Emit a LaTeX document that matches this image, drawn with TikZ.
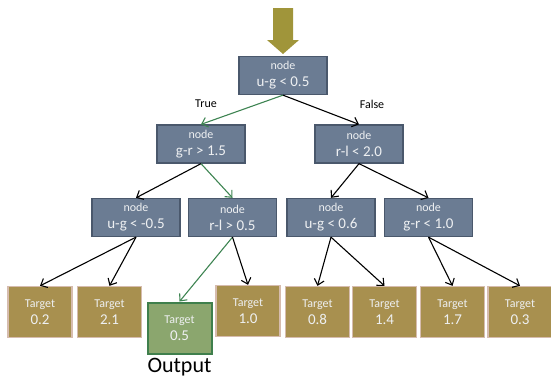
\documentclass[tikz,border=0pt]{standalone}
\usepackage{fontspec}
\setmainfont{Carlito}
\usepackage{xcolor}
\usepackage{tikz}
\usetikzlibrary{positioning, arrows.meta}

\definecolor{splitfill}{HTML}{6B7C93}
\definecolor{splitline}{HTML}{4A586C}
\definecolor{leaffill}{HTML}{A8904F}
\definecolor{leafline}{HTML}{D6BCAE}
\definecolor{outfill}{HTML}{8BA66E}
\definecolor{outline}{HTML}{3F7F4C}
\definecolor{pathgreen}{HTML}{3E8452}
\definecolor{inolive}{HTML}{A0953A}
\definecolor{softwhite}{HTML}{EEF0F2}

\newcommand{\smalltag}{\fontsize{12}{13}\selectfont}

\begin{document}
\begin{tikzpicture}[
    x=1pt, y=-1pt,
    % Define common styles
        splitnode/.style={draw=splitline, fill=splitfill, line width=1.3pt, text=softwhite, align=center, minimum width=88pt, minimum height=38pt, inner sep=2pt, font=\fontsize{15}{17}\selectfont},
        leafnode/.style={draw=leafline, fill=leaffill, line width=1.3pt, text=softwhite, align=center, minimum width=64pt, minimum height=51pt, inner sep=2pt, font=\fontsize{15}{17}\selectfont},
        outnode/.style={leafnode, draw=outline, fill=outfill, line width=2pt},
        arrow/.style={-{Straight Barb[length=5.5pt, width=10pt]}, line width=1.1pt},
        greenarrow/.style={arrow, draw=pathgreen}
    ]
    \useasboundingbox (0,0) rectangle (551,380);

        % Input arrow on top
        \fill[inolive] (273,8) -- (293,8) -- (293,40) -- (299,40) -- (283,54) -- (267,40) -- (273,40) -- cycle;

        % Root split
        \node[splitnode] (root) at (283,75.5) {{\smalltag node}\\ u-g < 0.5};

        % Second level
        \node[splitnode] (gr) at (201,144) {{\smalltag node}\\ g-r > 1.5};
        \node[splitnode] (rl) at (359,144) {{\smalltag node}\\ r-l < 2.0};

        % Third level
        \node[splitnode] (ugA) at (136,217.5) {{\smalltag node}\\ u-g < -0.5};
        \node[splitnode] (rlB) at (232.5,217.5) {{\smalltag node}\\ r-l > 0.5};
        \node[splitnode] (ugC) at (331,217.5) {{\smalltag node}\\ u-g < 0.6};
        \node[splitnode] (grD) at (428.5,217.5) {{\smalltag node}\\ g-r < 1.0};

        % Leaves
        \node[leafnode] (t1) at (40,312) {{\smalltag Target}\\ 0.2};
        \node[leafnode] (t2) at (109.5,312) {{\smalltag Target}\\ 2.1};
        \node[outnode] (t3) at (179.5,328) {{\smalltag Target}\\ 0.5};
        \node[leafnode] (t4) at (248,311) {{\smalltag Target}\\ 1.0};
        \node[leafnode] (t5) at (317.5,312) {{\smalltag Target}\\ 0.8};
        \node[leafnode] (t6) at (384.5,312) {{\smalltag Target}\\ 1.4};
        \node[leafnode] (t7) at (452.5,312) {{\smalltag Target}\\ 1.7};
        \node[leafnode] (t8) at (520,312) {{\smalltag Target}\\ 0.3};

        % Labels
        \node[font=\fontsize{12}{13}\selectfont] (true) at (206,104) {True};
        \node[font=\fontsize{12}{13}\selectfont] (false) at (372,104) {False};
        \node[below=4pt of t3, font=\fontsize{22}{24}\selectfont, inner sep=0pt] (output) {Output};

        % Draw the branches
        \draw[greenarrow] (root.south) -- (gr.north);
        \draw[arrow] (root.south) -- (rl.north);
        \draw[arrow] (gr.south) -- (ugA.north);
        \draw[greenarrow] (gr.south) -- (rlB.north);
        \draw[arrow] (rl.south) -- (ugC.north);
        \draw[arrow] (rl.south) -- (grD.north);

        % Draw leaf arrows
        \draw[arrow] (ugA.south) -- (t1.north);
        \draw[arrow] (ugA.south) -- (t2.north);
        \draw[greenarrow] (rlB.south) -- (t3.north);
        \draw[arrow] (rlB.south) -- (t4.north);
        \draw[arrow] (ugC.south) -- (t5.north);
        \draw[arrow] (ugC.south) -- (t6.north);
        \draw[arrow] (grD.south) -- (t7.north);
        \draw[arrow] (grD.south) -- (t8.north);

    \end{tikzpicture}
\end{document}
